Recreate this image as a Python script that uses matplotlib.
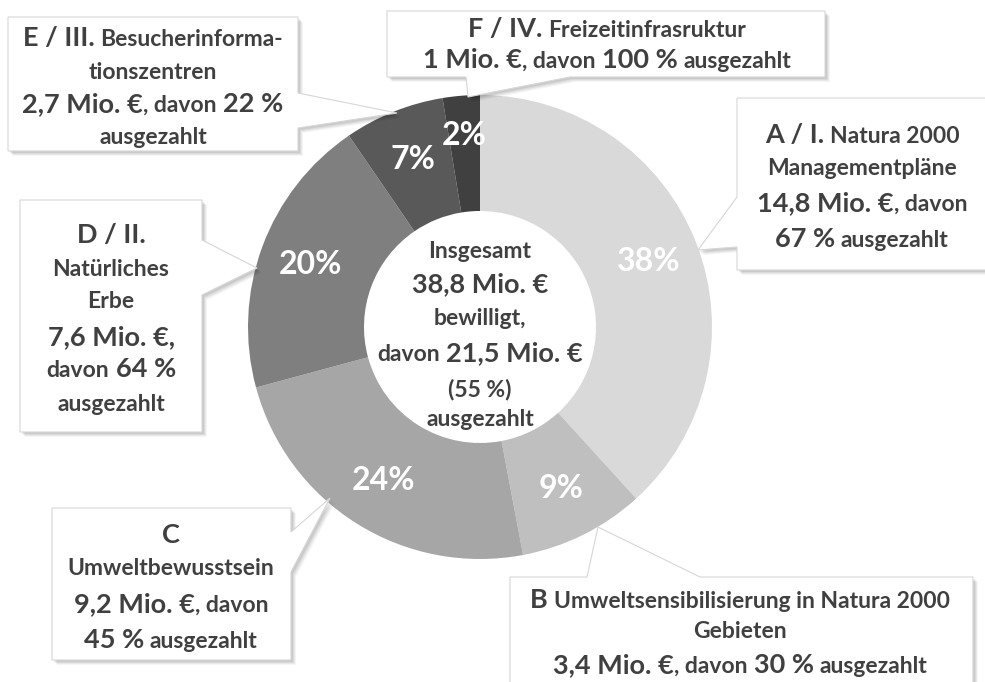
import matplotlib
matplotlib.use("Agg")
import matplotlib.pyplot as plt
from matplotlib.patches import Polygon
import math

W, H = 985, 682

# ---- data ----
categories = ["A / I.", "B", "C", "D / II.", "E / III.", "F / IV."]
amounts_mio = [14.8, 3.4, 9.2, 7.6, 2.7, 1.0]
paid_pct = [67, 30, 45, 64, 22, 100]
share_labels = ["38%", "9%", "24%", "20%", "7%", "2%"]
colors = ["#d9d9d9", "#bfbfbf", "#a6a6a6", "#7f7f7f", "#595959", "#404040"]
total_mio = 38.8
total_paid_mio = 21.5
total_paid_pct = 55

FONT = "Lato"
TXT = "#404040"
BIG = 19.5
SMALL = 16.5


def mio(v):
    s = f"{v:.1f}" if abs(v - round(v)) > 1e-9 else f"{int(round(v))}"
    return s.replace(".", ",") + " Mio. €"


fig = plt.figure(figsize=(W / 100, H / 100), dpi=100)
ax = fig.add_axes([0, 0, 1, 1])

cx, cy_img, R = 480, 327, 232
wedges, _ = ax.pie(amounts_mio, colors=colors, startangle=90, counterclock=False,
                   center=(cx, H - cy_img), radius=R,
                   wedgeprops=dict(width=R * 0.5, linewidth=0), frame=True)
ax.set_xlim(0, W)
ax.set_ylim(0, H)
ax.set_aspect("auto")
ax.axis("off")

for w, lab in zip(wedges, share_labels):
    th = math.radians((w.theta1 + w.theta2) / 2)
    span = w.theta2 - w.theta1
    rr = R * (0.83 if span < 15 else 0.78)
    ax.text(w.center[0] + rr * math.cos(th), w.center[1] + rr * math.sin(th), lab,
            ha="center", va="center", color="white", fontsize=23,
            fontweight="bold", family=FONT)

renderer = fig.canvas.get_renderer()
space_cache = {}


def width_of(s, size):
    t = ax.text(0, 0, s, fontsize=size, fontweight="bold", family=FONT)
    wdt = t.get_window_extent(renderer).width
    t.remove()
    return wdt


def space_w(size):
    if size not in space_cache:
        space_cache[size] = width_of("a a", size) - width_of("aa", size)
    return space_cache[size]


def line(xc, y_img, runs):
    """runs: list of (text, size, gap_before); y_img is the baseline"""
    widths = [width_of(t, s) for t, s, g in runs]
    gaps = [space_w(s) if g else 0 for t, s, g in runs]
    total = sum(widths) + sum(gaps)
    x = xc - total / 2
    for (t, s, g), wd, gp in zip(runs, widths, gaps):
        x += gp
        ax.text(x, H - y_img, t, fontsize=s, fontweight="bold", family=FONT,
                color=TXT, ha="left", va="baseline", zorder=6)
        x += wd


def callout(x0, y0, x1, y1, side, b1, b2, tip):
    tl, tr, br, bl = (x0, y0), (x1, y0), (x1, y1), (x0, y1)
    if side == "top":
        pts = [tl, (b1, y0), tip, (b2, y0), tr, br, bl]
    elif side == "right":
        pts = [tl, tr, (x1, b1), tip, (x1, b2), br, bl]
    elif side == "bottom":
        pts = [tl, tr, br, (b2, y1), tip, (b1, y1), bl]
    else:
        pts = [tl, tr, br, bl, (x0, b2), tip, (x0, b1)]
    for k, a in [(5, 0.04), (4, 0.05), (3, 0.06), (2, 0.07)]:
        ax.add_patch(Polygon([(px + k, H - py - k) for px, py in pts], closed=True,
                             facecolor="black", alpha=a, edgecolor="none", zorder=4))
    ax.add_patch(Polygon([(px, H - py) for px, py in pts], closed=True,
                         facecolor="white", edgecolor="#d6d6d6", linewidth=0.8, zorder=5))


# ---- callout boxes ----
callout(737, 98, 992, 270, "left", 197, 247, (698, 250))     # A
callout(510, 577, 973, 690, "top", 587, 700, (598, 527))     # B
callout(52, 508, 291, 660, "right", 532, 572, (330, 498))    # C
callout(20, 200, 202, 432, "right", 240, 295, (257, 268))    # D
callout(8, 17, 298, 151, "right", 93, 128, (397, 113))       # E
callout(387, 11, 825, 77, "bottom", 466, 570, (468, 97))     # F

# A
line(862, 143, [(categories[0], BIG, False), ("Natura 2000", SMALL, True)])
line(862, 175, [("Managementpläne", SMALL, False)])
line(862, 211, [(mio(amounts_mio[0]), BIG, False), (", davon", SMALL, False)])
line(862, 247, [(f"{paid_pct[0]} %", BIG, False), ("ausgezahlt", SMALL, True)])
# B
line(740, 608, [(categories[1], BIG, False), ("Umweltsensibilisierung in Natura 2000", SMALL, True)])
line(740, 638, [("Gebieten", SMALL, False)])
line(740, 673, [(mio(amounts_mio[1]), BIG, False), (", davon", SMALL, False),
                (f"{paid_pct[1]} %", BIG, True), ("ausgezahlt", SMALL, True)])
# C
line(171, 543, [(categories[2], BIG, False)])
line(171, 575, [("Umweltbewusstsein", SMALL, False)])
line(171, 612, [(mio(amounts_mio[2]), BIG, False), (", davon", SMALL, False)])
line(171, 648, [(f"{paid_pct[2]} %", BIG, False), ("ausgezahlt", SMALL, True)])
# D
line(111, 243, [(categories[3], BIG, False)])
line(111, 276, [("Natürliches", SMALL, False)])
line(111, 308, [("Erbe", SMALL, False)])
line(111, 345, [(mio(amounts_mio[3]) + ",", BIG, False)])
line(111, 377, [("davon", SMALL, False), (f"{paid_pct[3]} %", BIG, True)])
line(111, 411, [("ausgezahlt", SMALL, False)])
# E
line(153, 46, [(categories[4], BIG, False), ("Besucherinforma-", SMALL, True)])
line(153, 79, [("tionszentren", SMALL, False)])
line(153, 112, [(mio(amounts_mio[4]), BIG, False), (", davon", SMALL, False),
                (f"{paid_pct[4]} %", BIG, True)])
line(153, 144, [("ausgezahlt", SMALL, False)])
# F
line(607, 37, [(categories[5], BIG, False), ("Freizeitinfrasruktur", SMALL, True)])
line(607, 68, [(mio(amounts_mio[5]), BIG, False), (", davon", SMALL, False),
               (f"{paid_pct[5]} %", BIG, True), ("ausgezahlt", SMALL, True)])

# ---- centre text ----
line(480, 258, [("Insgesamt", SMALL, False)])
line(480, 292, [(mio(total_mio), BIG, False)])
line(480, 325, [("bewilligt,", SMALL, False)])
line(480, 361, [("davon", SMALL, False), (mio(total_paid_mio), BIG, True)])
line(480, 396, [(f"({total_paid_pct} %)", SMALL, False)])
line(480, 426, [("ausgezahlt", SMALL, False)])

fig.savefig("out.png", dpi=100)
